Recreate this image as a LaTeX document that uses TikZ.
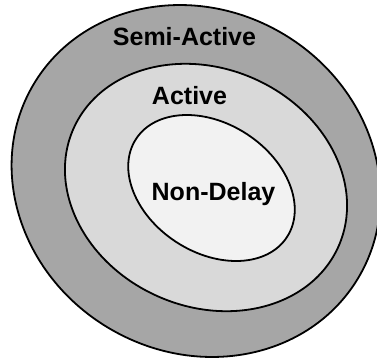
\documentclass[tikz,border=0pt]{standalone}
\usepackage{fontspec}
\setmainfont{Liberation Sans}
\definecolor{OuterGray}{HTML}{A6A6A6}
\definecolor{MidGray}{HTML}{D9D9D9}
\definecolor{InnerGray}{HTML}{F2F2F2}
\tikzset{
  ring/.style={draw=black, fill=#1, line width=1.8pt},
  tag/.style={font=\bfseries\fontsize{25}{30}\selectfont, text=black, anchor=base, inner sep=0pt}
}
\begin{document}
\begin{tikzpicture}[x=1pt, y=-1pt]
  \useasboundingbox (0,0) rectangle (377,359);
  \clip (0,0) rectangle (377,359);
  \draw[ring=OuterGray, shift={(196,181)}, rotate=-31] (0,0) ellipse (189 and 171);
  \draw[ring=MidGray, shift={(206,187.5)}, rotate=-24] (0,0) ellipse (145 and 119);
  \draw[ring=InnerGray, shift={(211.5,188)}, rotate=-33] (0,0) ellipse (90 and 64.5);

  \node[tag] (semi) at (184.5,45) {Semi-Active};
  \node[tag] (act) at (189.5,104) {Active};
  \node[tag] (nondelay) at (213.5,200) {Non-Delay};
\end{tikzpicture}
\end{document}
